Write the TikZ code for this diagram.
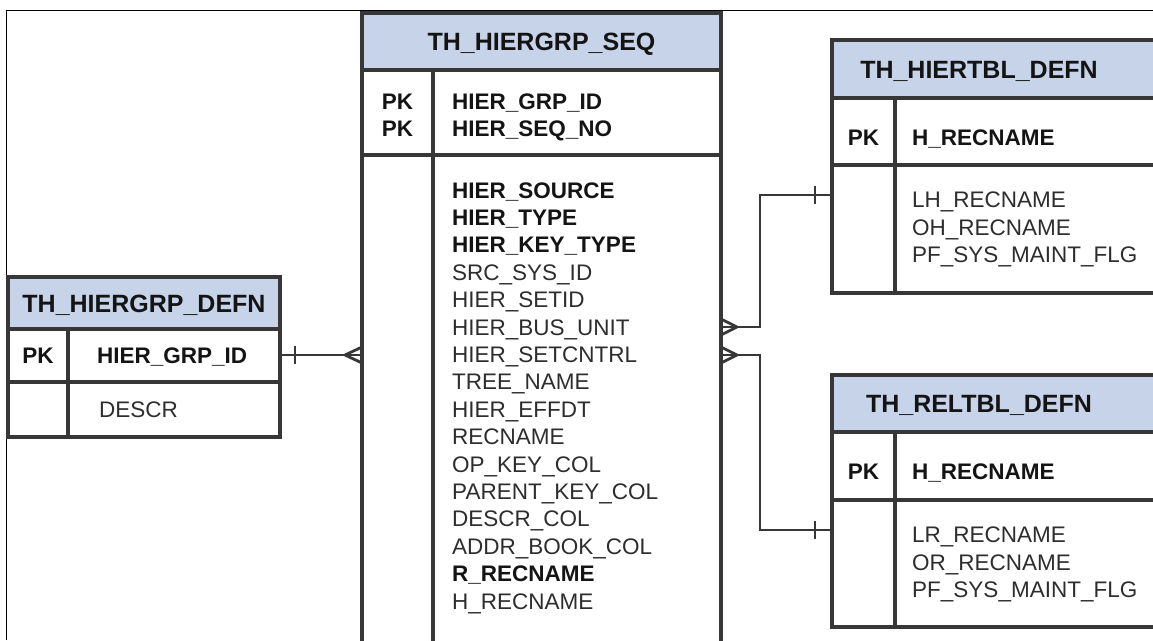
\documentclass[tikz,border=0pt]{standalone}
\usepackage{fontspec}
\setmainfont{Liberation Sans}
\usetikzlibrary{calc}
\definecolor{hdr}{RGB}{198,211,233}
\definecolor{ln}{RGB}{55,55,55}
\definecolor{txt}{RGB}{45,45,45}
\definecolor{btxt}{RGB}{20,20,20}
\tikzset{
 box/.style={draw=ln, line width=3.2pt, rectangle, inner sep=0pt, outer sep=0pt, anchor=north west},
 hbox/.style={box, fill=hdr},
 sepline/.style={draw=ln, line width=3.2pt},
 conn/.style={draw=ln, line width=2.8pt},
 htext/.style={font=\fontsize{25}{30}\selectfont\bfseries, text=btxt, inner sep=0pt, anchor=base},
 ftext/.style={font=\fontsize{22.5}{27}\selectfont, text=txt, inner sep=0pt, anchor=base west},
 ktext/.style={font=\fontsize{22.5}{27}\selectfont\bfseries, text=btxt, inner sep=0pt, anchor=base west},
 pktext/.style={font=\fontsize{22.5}{27}\selectfont\bfseries, text=btxt, inner sep=0pt, anchor=base},
}
\begin{document}
\begin{tikzpicture}[x=1pt,y=-1pt]
\useasboundingbox (0,0) rectangle (1153,640);
\clip (0,0) rectangle (1153,640);
\draw[line width=1.2pt] (6.5,640) -- (6.5,10.5) -- (1153,10.5);

% ---------- TH_HIERGRP_DEFN ----------
\node[box, minimum width=272pt, minimum height=160pt] (hgd) at (8,277) {};
\node[hbox, minimum width=272pt, minimum height=52pt] (hgdh) at (8,277) {};
\draw[sepline] (8,382) -- (280,382);
\draw[sepline] (68,329) -- (68,437);
\node[htext] (hgdt) at (144,312.5) {TH\_HIERGRP\_DEFN};
\node[pktext] (hgdpk) at (38,363) {PK};
\node[ktext] (hgdk) at (97,363) {HIER\_GRP\_ID};
\node[ftext] (hgdf) at (99,417) {DESCR};

% ---------- TH_HIERGRP_SEQ ----------
\node[box, minimum width=359pt, minimum height=700pt] (seq) at (362,13) {};
\node[hbox, minimum width=359pt, minimum height=57pt] (seqh) at (362,13) {};
\draw[sepline] (362,155) -- (721,155);
\draw[sepline] (433,70) -- (433,713);
\node[htext] (seqt) at (541.5,50.5) {TH\_HIERGRP\_SEQ};
\node[pktext] (seqpk1) at (397.5,109) {PK};
\node[pktext] (seqpk2) at (397.5,136.5) {PK};
\node[ktext] (seqk1) at (452,109) {HIER\_GRP\_ID};
\node[ktext] (seqk2) at (452,136.5) {HIER\_SEQ\_NO};
\foreach \t [count=\i from 0] in {\textbf{\color{btxt}HIER\_SOURCE},\textbf{\color{btxt}HIER\_TYPE},\textbf{\color{btxt}HIER\_KEY\_TYPE},SRC\_SYS\_ID,HIER\_SETID,HIER\_BUS\_UNIT,HIER\_SETCNTRL,TREE\_NAME,HIER\_EFFDT,RECNAME,OP\_KEY\_COL,PARENT\_KEY\_COL,DESCR\_COL,ADDR\_BOOK\_COL,\textbf{\color{btxt}R\_RECNAME},H\_RECNAME}
  \node[ftext] (seqf\i) at (452,198+27.4*\i) {\t};

% ---------- TH_HIERTBL_DEFN ----------
\node[box, minimum width=340pt, minimum height=253pt] (htd) at (832,40) {};
\node[hbox, minimum width=340pt, minimum height=58pt] (htdh) at (832,40) {};
\draw[sepline] (832,165) -- (1172,165);
\draw[sepline] (895,98) -- (895,293);
\node[htext] (htdt) at (979,78) {TH\_HIERTBL\_DEFN};
\node[pktext] (htdpk) at (863.5,145) {PK};
\node[ktext] (htdk) at (912,145) {H\_RECNAME};
\node[ftext] (htdf1) at (912,207.5) {LH\_RECNAME};
\node[ftext] (htdf2) at (912,235) {OH\_RECNAME};
\node[ftext] (htdf3) at (912,262.5) {PF\_SYS\_MAINT\_FLG};

% ---------- TH_RELTBL_DEFN ----------
\node[box, minimum width=340pt, minimum height=252pt] (rtd) at (832,375) {};
\node[hbox, minimum width=340pt, minimum height=57pt] (rtdh) at (832,375) {};
\draw[sepline] (832,500) -- (1172,500);
\draw[sepline] (895,432) -- (895,627);
\node[htext] (rtdt) at (979,412.5) {TH\_RELTBL\_DEFN};
\node[pktext] (rtdpk) at (863.5,479.5) {PK};
\node[ktext] (rtdk) at (912,479.5) {H\_RECNAME};
\node[ftext] (rtdf1) at (912,542.5) {LR\_RECNAME};
\node[ftext] (rtdf2) at (912,570) {OR\_RECNAME};
\node[ftext] (rtdf3) at (912,597.5) {PF\_SYS\_MAINT\_FLG};

% ---------- connectors ----------
% left: TH_HIERGRP_DEFN -> TH_HIERGRP_SEQ
\coordinate (cl) at (362,355);
\coordinate (cls) at (280,355);
\draw[conn] (hgd.east |- cls) -- (seq.west |- cl);
\draw[conn] ($(cls)+(15,-9)$) -- ($(cls)+(15,9)$);
\draw[conn] ($(cl)+(-17,0)$) -- ($(cl)+(0,-8)$)
            ($(cl)+(-17,0)$) -- ($(cl)+(0,8)$);

% right upper: TH_HIERGRP_SEQ -> TH_HIERTBL_DEFN
\coordinate (cr1) at (721,327);
\coordinate (b1) at (760,327);
\coordinate (b2) at (760,195);
\coordinate (t1) at (832,195);
\draw[conn] (seq.east |- cr1) -- (b1) -- (b2) -- (htd.west |- t1);
\draw[conn] ($(t1)+(-17,-9)$) -- ($(t1)+(-17,9)$);
\draw[conn] ($(cr1)+(16,0)$) -- ($(cr1)+(0,-8)$)
            ($(cr1)+(16,0)$) -- ($(cr1)+(0,8)$);

% right lower: TH_HIERGRP_SEQ -> TH_RELTBL_DEFN
\coordinate (cr2) at (721,355);
\coordinate (b3) at (760,355);
\coordinate (b4) at (760,530);
\coordinate (t2) at (832,530);
\draw[conn] (seq.east |- cr2) -- (b3) -- (b4) -- (rtd.west |- t2);
\draw[conn] ($(t2)+(-17,-9)$) -- ($(t2)+(-17,9)$);
\draw[conn] ($(cr2)+(16,0)$) -- ($(cr2)+(0,-8)$)
            ($(cr2)+(16,0)$) -- ($(cr2)+(0,8)$);
\end{tikzpicture}
\end{document}
